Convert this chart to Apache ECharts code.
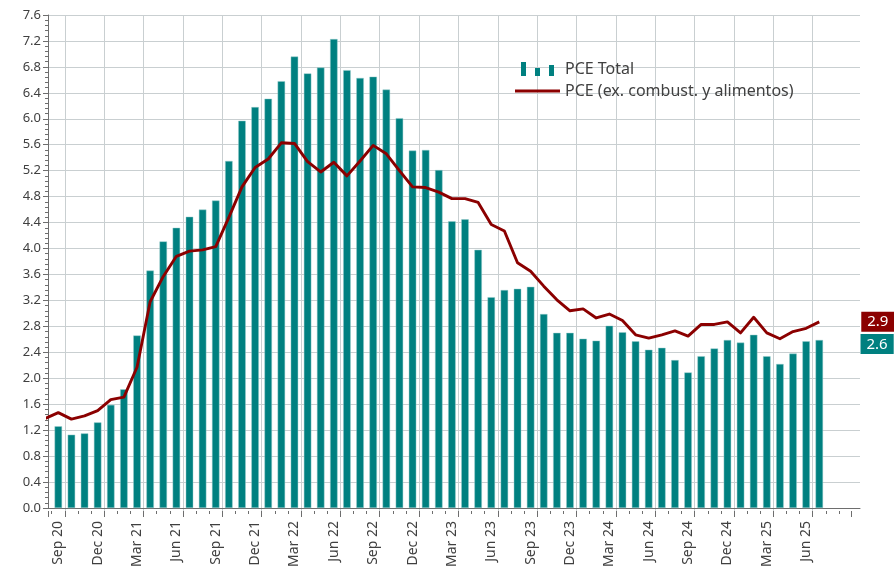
<!DOCTYPE html>
<html>
<head>
<meta charset="utf-8">
<script src="https://cdn.jsdelivr.net/npm/echarts@6/dist/echarts.min.js"></script>
<style>
  html, body { margin: 0; padding: 0; background: #fff; }
  #chart { width: 894px; height: 570px; }
</style>
</head>
<body>
<div id="chart"></div>
<script>
// tick labels, one every 3 months starting at Sep 20
const tickLabels = ['Sep 20', 'Dec 20', 'Mar 21', 'Jun 21', 'Sep 21', 'Dec 21', 'Mar 22', 'Jun 22',
  'Sep 22', 'Dec 22', 'Mar 23', 'Jun 23', 'Sep 23', 'Dec 23', 'Mar 24', 'Jun 24', 'Sep 24',
  'Dec 24', 'Mar 25', 'Jun 25']

// monthly values, Aug 20 .. Jul 25 (Aug 20 sits left of the axis start)
const pceTotal = [1.17,
  1.26, 1.13, 1.15, 1.32,
  1.59, 1.83, 2.66, 3.66, 4.11, 4.32, 4.49, 4.60, 4.74, 5.35, 5.97, 6.18,
  6.31, 6.58, 6.96, 6.70, 6.79, 7.23, 6.75, 6.63, 6.65, 6.45, 6.01, 5.51,
  5.52, 5.21, 4.42, 4.45, 3.98, 3.25, 3.36, 3.38, 3.41, 2.99, 2.70, 2.70,
  2.61, 2.58, 2.81, 2.71, 2.57, 2.44, 2.47, 2.28, 2.09, 2.34, 2.46, 2.59,
  2.55, 2.67, 2.34, 2.22, 2.38, 2.57, 2.59]

const pceCore = [1.38,
  1.47, 1.37, 1.42, 1.50,
  1.67, 1.71, 2.17, 3.18, 3.57, 3.88, 3.96, 3.98, 4.03, 4.48, 4.95, 5.25,
  5.38, 5.63, 5.62, 5.34, 5.18, 5.33, 5.12, 5.35, 5.59, 5.46, 5.20, 4.95,
  4.94, 4.87, 4.77, 4.77, 4.71, 4.37, 4.27, 3.78, 3.65, 3.42, 3.21, 3.04,
  3.07, 2.93, 2.99, 2.89, 2.67, 2.62, 2.67, 2.73, 2.65, 2.83, 2.83, 2.87,
  2.70, 2.94, 2.70, 2.61, 2.72, 2.77, 2.87]

const startMonth = -1 // Aug 20 is one month before Sep 20 (= 0)
const xMin = -0.785
const xMax = 61.104
const tickMax = 59.918

const teal = '#008080'
const darkRed = '#8b0000'
const gridColor = '#c9cfd1'
const axisColor = '#6e6e6e'
const font = 'Noto Sans'

const endLabelStyle = {
  show: true,
  color: '#fff',
  padding: [3, 6, 2, 6],
  fontSize: 15,
  fontFamily: font,
  formatter: (p) => p.value[1].toFixed(1),
}

// bars outside the axis range are dropped (ECharts does not clip bars on a value axis)
const barData = pceTotal
  .map((v, i) => [i + startMonth, v])
  .filter((d) => d[0] - 0.3 > xMin)
const lastBar = barData.length - 1
barData[lastBar] = {
  value: barData[lastBar],
  label: { ...endLabelStyle, position: [45, -6], backgroundColor: teal },
}
const lineData = pceCore.map((v, i) => [i + startMonth, v])

const chart = echarts.init(document.getElementById('chart'))
chart.setOption({
  animation: false,
  textStyle: { fontFamily: font },
  grid: [
    { left: 48, right: 34, top: 15, bottom: 59 },
    { left: 48, right: 43, top: 15, bottom: 59 },
  ],
  legend: {
    orient: 'vertical',
    left: 510,
    top: 56,
    itemWidth: 45,
    itemHeight: 14,
    itemGap: 6,
    textStyle: { fontSize: 16, color: '#404040', fontFamily: font },
    data: [
      {
        name: 'PCE Total',
        icon: 'path://M0,0h0.1v0.1h-0.1z M6,0h5v14h-5z M20,6h5v8h-5z M34,3h5v11h-5z M44.9,13.9h0.1v0.1h-0.1z',
        itemStyle: { borderWidth: 0 },
      },
      {
        name: 'PCE (ex. combust. y alimentos)',
        icon: 'path://M0,0h0.1v0.1h-0.1z M0,5.5h45v3h-45z M44.9,13.9h0.1v0.1h-0.1z',
        itemStyle: { borderWidth: 0 },
      },
    ],
  },
  xAxis: [
    {
      type: 'value',
      gridIndex: 0,
      min: xMin,
      max: xMax,
      minInterval: 3,
      maxInterval: 3,
      splitNumber: 20,
      axisLine: { show: true, onZero: false, lineStyle: { color: axisColor } },
      axisTick: { show: false },
      splitLine: { show: false },
      axisLabel: {
        rotate: 90,
        margin: 13,
        fontSize: 14,
        color: '#404040',
        formatter: (v) => (v >= 0 && v % 3 === 0 ? tickLabels[v / 3] || '' : ''),
      },
    },
    {
      type: 'value',
      gridIndex: 1,
      min: xMin - 0.5,
      max: tickMax,
      minInterval: 3,
      maxInterval: 3,
      splitNumber: 20,
      axisLine: { show: false, onZero: false },
      axisTick: { show: true, length: 6, lineStyle: { color: axisColor } },
      minorTick: { show: true, splitNumber: 3, length: 3, lineStyle: { color: axisColor } },
      splitLine: { show: true, showMinLine: false, showMaxLine: false, lineStyle: { color: gridColor } },
      axisLabel: { show: false },
    },
  ],
  yAxis: [
    {
      type: 'value',
      gridIndex: 0,
      min: 0,
      max: 7.6,
      interval: 0.4,
      axisLine: { show: true, onZero: false, lineStyle: { color: axisColor } },
      axisTick: { show: true, length: 5, lineStyle: { color: axisColor } },
      minorTick: { show: true, splitNumber: 5, length: 3, lineStyle: { color: axisColor } },
      splitLine: { show: true, lineStyle: { color: gridColor } },
      axisLabel: { fontSize: 13, color: '#404040', margin: 7, formatter: (v) => v.toFixed(1) },
    },
    { type: 'value', gridIndex: 1, min: 0, max: 7.6, show: false },
  ],
  series: [
    {
      name: 'PCE Total',
      type: 'bar',
      xAxisIndex: 0,
      yAxisIndex: 0,
      barWidth: 7.5,
      data: barData,
      itemStyle: { color: teal, borderColor: 'rgba(150, 205, 205, 0.9)', borderWidth: 0.5 },
    },
    {
      name: 'PCE (ex. combust. y alimentos)',
      type: 'line',
      xAxisIndex: 0,
      yAxisIndex: 0,
      data: lineData,
      symbol: 'none',
      color: darkRed,
      lineStyle: { color: darkRed, width: 2.9, join: 'round' },
      endLabel: { ...endLabelStyle, distance: 42, backgroundColor: darkRed },
    },
  ],
})
</script>
</body>
</html>
